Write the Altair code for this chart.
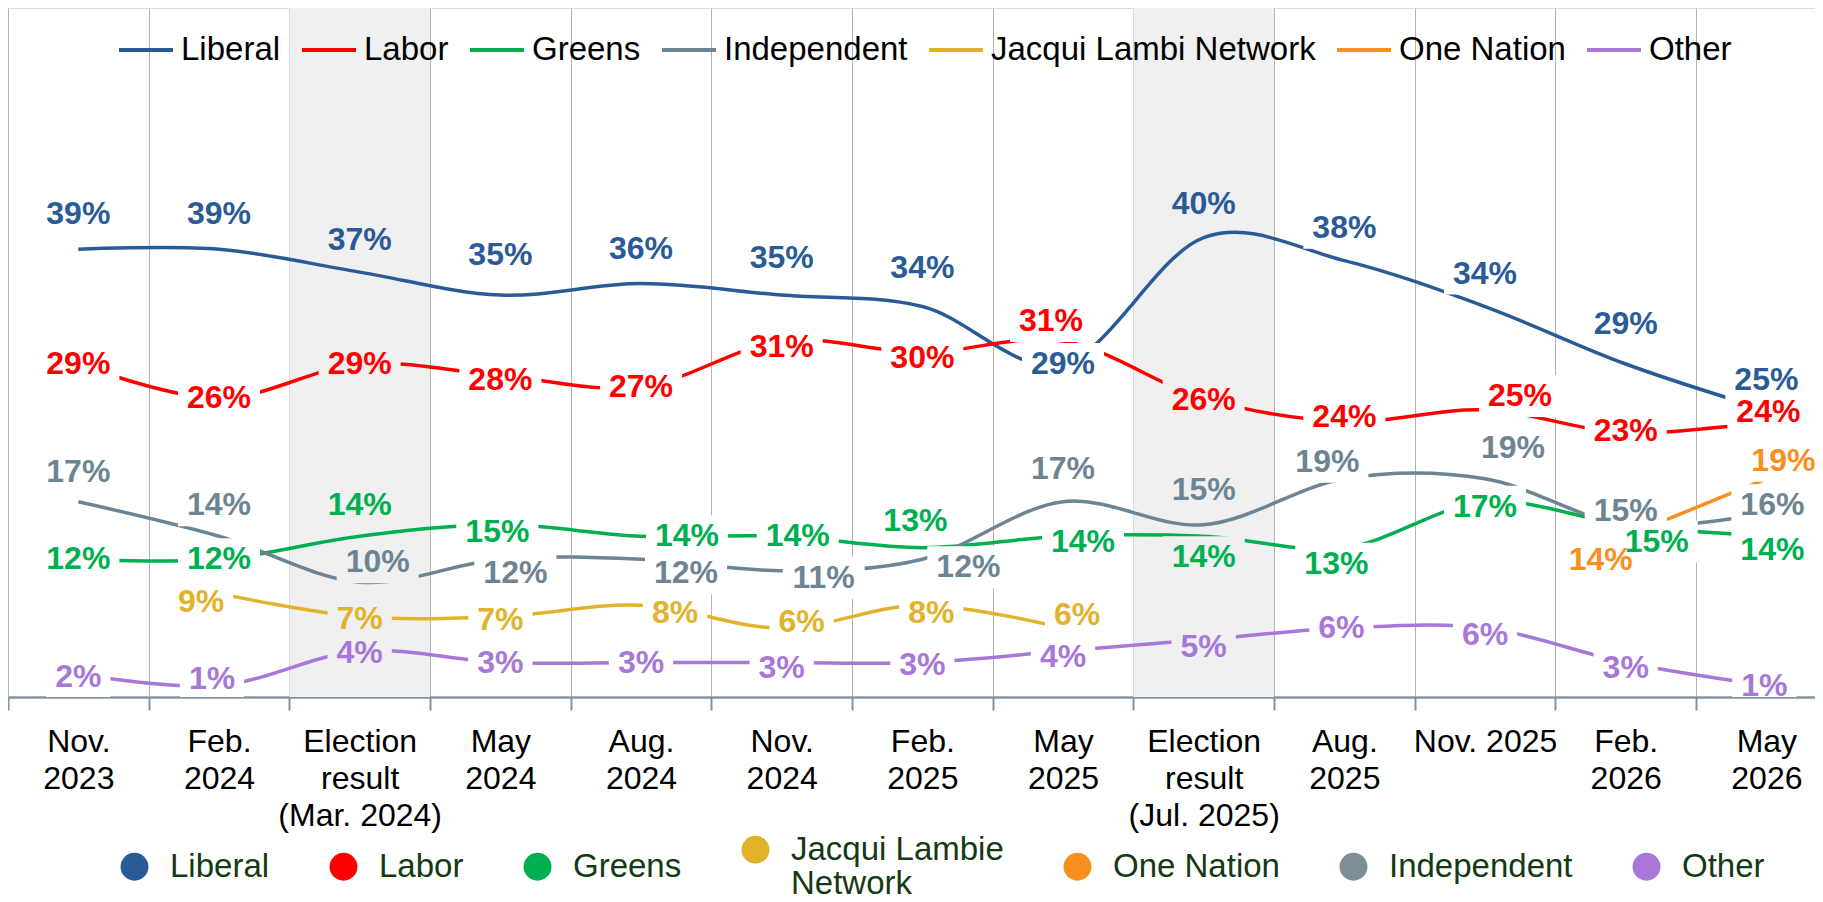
import json
import altair as alt
import pandas as pd

# ---------------- data ----------------
categories = [
    "Nov.\n2023", "Feb.\n2024", "Election\nresult\n(Mar. 2024)", "May\n2024",
    "Aug.\n2024", "Nov.\n2024", "Feb.\n2025", "May\n2025",
    "Election\nresult\n(Jul. 2025)", "Aug.\n2025", "Nov. 2025", "Feb.\n2026", "May\n2026",
]
election_idx = [2, 8]

liberal = [39, 39, 37, 35, 36, 35, 34, 29, 40, 38, 34, 29, 25]
labor = [29, 26, 29, 28, 27, 31, 30, 31, 26, 24, 25, 23, 24]
greens = [12, 12, 14, 15, 14, 14, 13, 14, 14, 13, 17, 15, 14]
independent = [17, 14, 10, 12, 12, 11, 12, 17, 15, 19, 19, 15, 16]
jln = [None, 9, 7, 7, 8, 6, 8, 6, None, None, None, None, None]
one_nation = [None, None, None, None, None, None, None, None, None, None, None, 14, 19]
other = [2, 1, 4, 3, 3, 3, 3, 4, 5, 6, 6, 3, 1]

series_values = {
    "Liberal": liberal,
    "Labor": labor,
    "Greens": greens,
    "Independent": independent,
    "Jacqui Lambie Network": jln,
    "One Nation": one_nation,
    "Other": other,
}

# label nudges in pixels (dx, dy), negative dy = up
N0 = (0, 0)
label_nudges = {
    "Liberal": [(0, -35), (0, -35), (0, -32), (0, -40), (0, -35), (0, -37), (0, -39),
                (0, 0), (0, -34), (0, -33), (0, -33), (0, -40), (0, -30)],
    "Labor": [N0, N0, N0, (0, 5), N0, (0, 6), (0, 5), (-12, -20), (0, 2), (0, -4),
              (35, -14), (0, -2), (2, -9)],
    "Greens": [N0, N0, (0, -31), (-3, 7), (46, 0), (16, 0), (-7, -27), (20, 6), (0, 21),
               (-8, 16), (0, 5), (31, 17), (6, 14)],
    "Independent": [(0, -30), (0, -31), (18, -20), (15, 14), (45, 14), (42, 7), (46, 8),
                    (0, -33), (0, -35), (-17, -17), (28, -31), (0, -14), (6, -8)],
    "Jacqui Lambie Network": [N0, (-18, 8), (0, 2), (0, 3), (34, 8), (20, -6), (9, 8),
                              (14, -13), N0, N0, N0, N0, N0],
    "One Nation": [N0] * 11 + [(-25, 24), (17, -18)],
    "Other": [(0, 3), (-7, -7), (0, 2), N0, N0, (0, 5), (0, 2), (0, 6), (0, 7), (-3, 0),
              (0, 7), (0, 5), (-2, 0)],
}

line_colors = {
    "Liberal": "#2a5b96",
    "Labor": "#ff0000",
    "Greens": "#00b050",
    "Independent": "#6d8593",
    "Jacqui Lambie Network": "#e3b22c",
    "One Nation": "#f7901e",
    "Other": "#a877d8",
}
top_order = ["Liberal", "Labor", "Greens", "Independent", "Jacqui Lambie Network", "One Nation", "Other"]
bottom_order = ["Liberal", "Labor", "Greens", "Jacqui Lambie Network", "One Nation", "Independent", "Other"]
bottom_fill = {
    "Liberal": "#2a5b96", "Labor": "#ff0000", "Greens": "#00b050",
    "Jacqui Lambie Network": "#e2b12a", "One Nation": "#f7901e",
    "Independent": "#7c8f99", "Other": "#a877d8",
}

# ---------------- layout ----------------
BW = 140.67          # pixel width of one period column
W = 1807             # visible plot width (last column runs off the edge)
H = 689
YMAX = 60
PPU = H / YMAX
FONT = "Liberation Sans"
LABEL_FS = 32
BAND_BG = "#f0f0f0"
X_END = -0.5 + W / BW

rows = []
for s, vals in series_values.items():
    for i, v in enumerate(vals):
        if v is None:
            continue
        dx, dy = label_nudges[s][i]
        lx = i + dx / BW
        ly = v - dy / PPU
        txt = f"{v}%"
        tw = LABEL_FS * (0.556 * (len(txt) - 1) + 0.889)
        hw = tw / 2 + 9
        hh = 21
        in_band = any(abs(lx - e) < 0.5 for e in election_idx)
        rows.append(dict(series=s, idx=i, value=v, lx=lx, ly=ly, label=txt,
                         bx0=lx - hw / BW, bx1=lx + hw / BW,
                         by0=ly - hh / PPU, by1=ly + hh / PPU,
                         inband=in_band))
df = pd.DataFrame(rows)

bands = pd.DataFrame({"x0": [i - 0.5 for i in election_idx],
                      "x1": [i + 0.5 for i in election_idx],
                      "ytop": [YMAX] * len(election_idx),
                      "ybot": [0] * len(election_idx)})

label_lines = [c.split("\n") for c in categories]
label_expr = f"datum.value < {len(categories) - 0.5} ? {json.dumps(label_lines)}[round(datum.value + 0.5)] : ''"

xscale = alt.Scale(domain=[-0.5, X_END], nice=False, zero=False)
yscale = alt.Scale(domain=[0, YMAX], nice=False, zero=False)
xaxis = alt.Axis(
    values=[i - 0.5 for i in range(len(categories)) if i - 0.5 <= X_END],
    grid=True, gridColor="#b3b3b3", gridWidth=1,
    domainColor="#8494a3", domainWidth=2.5,
    tickColor="#8494a3", tickWidth=2, tickSize=13,
    labelExpr=label_expr, labelOffset=BW / 2, labelAlign="center", labelBaseline="top",
    labelPadding=16, labelFontSize=32, labelFont=FONT, labelColor="black",
    labelLineHeight=37, labelOverlap=False, labelFlush=False, labelBound=False,
    title=None,
)

band_layer = alt.Chart(bands).mark_rect(color=BAND_BG, clip=True).encode(
    x=alt.X("x0:Q", scale=xscale, axis=xaxis),
    x2="x1:Q",
    y=alt.Y("ytop:Q", scale=yscale, axis=None),
    y2="ybot:Q",
)

line_layer = alt.Chart(df).mark_line(strokeWidth=3.5, interpolate="cardinal", clip=True).encode(
    x=alt.X("idx:Q", scale=xscale, axis=xaxis),
    y=alt.Y("value:Q", scale=yscale, axis=None),
    stroke=alt.Stroke(
        "series:N",
        scale=alt.Scale(domain=top_order, range=[line_colors[s] for s in top_order]),
        legend=alt.Legend(
            title=None, orient="none", legendX=109, legendY=13, direction="horizontal",
            symbolType="stroke", symbolStrokeWidth=4, symbolSize=54 * 54,
            labelFont=FONT, labelFontSize=33, labelColor="black", labelOffset=6,
            columnPadding=13, padding=0, labelLimit=1000,
            labelExpr="datum.label == 'Jacqui Lambie Network' ? 'Jacqui Lambi Network' : datum.label",
        ),
    ),
    order="idx:Q",
)

legend_layer = alt.Chart(df).mark_point(filled=True, opacity=0, size=10, clip=True).encode(
    x=alt.X("idx:Q", scale=xscale, axis=xaxis),
    y=alt.Y("value:Q", scale=yscale, axis=None),
    fill=alt.Fill(
        "series:N",
        scale=alt.Scale(domain=bottom_order, range=[bottom_fill[s] for s in bottom_order]),
        legend=alt.Legend(
            title=None, orient="none", legendX=110, legendY=825, direction="horizontal",
            symbolType="circle", symbolSize=780, symbolOpacity=1,
            labelFont=FONT, labelFontSize=33, labelColor="#143a14", labelOffset=19,
            columnPadding=57, padding=0, labelLimit=1000,
            labelExpr="datum.label == 'Jacqui Lambie Network' ? ['Jacqui Lambie', 'Network'] : datum.label",
        ),
    ),
)

box_enc = dict(
    x=alt.X("bx0:Q", scale=xscale, axis=xaxis),
    x2="bx1:Q",
    y=alt.Y("by0:Q", scale=yscale, axis=None),
    y2="by1:Q",
)
box_white = alt.Chart(df).transform_filter("!datum.inband").mark_rect(
    color="white", clip=True).encode(**box_enc)
box_gray = alt.Chart(df).transform_filter("datum.inband").mark_rect(
    color=BAND_BG, clip=True).encode(**box_enc)

text_layer = alt.Chart(df).mark_text(
    font=FONT, fontSize=LABEL_FS, fontWeight="bold", align="center", baseline="middle", clip=True,
).encode(
    x=alt.X("lx:Q", scale=xscale, axis=xaxis),
    y=alt.Y("ly:Q", scale=yscale, axis=None),
    text="label:N",
    color=alt.Color("series:N",
                    scale=alt.Scale(domain=top_order, range=[line_colors[s] for s in top_order]),
                    legend=None),
)

chart = alt.layer(band_layer, line_layer, legend_layer, box_white, box_gray, text_layer).properties(
    width=W, height=H, background="white",
    autosize=alt.AutoSizeParams(type="none"),
    padding={"left": 0, "top": 0, "right": 0, "bottom": 205},
).configure_view(stroke=None).configure(
    font=FONT, style={"guide-label": {"lineHeight": 34}}
)

chart.save("out.html", embed_options={"renderer": "svg", "actions": False})
